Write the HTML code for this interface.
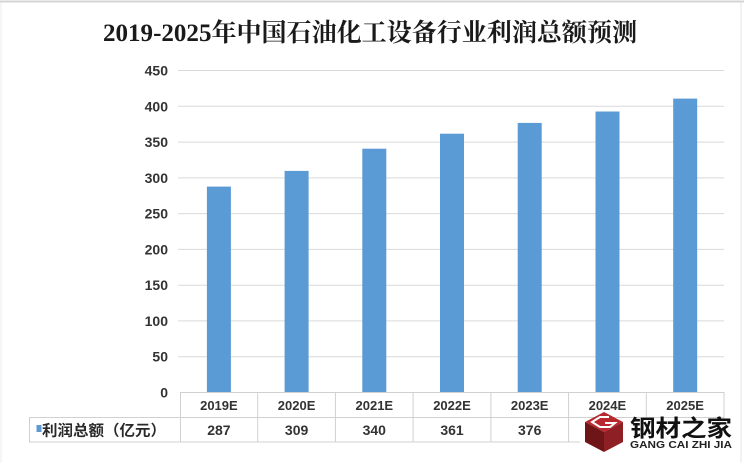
<!DOCTYPE html>
<html>
<head>
<meta charset="utf-8">
<style>
  html,body{margin:0;padding:0;background:#fff;}
  svg{display:block;}
  .t{font-family:"Liberation Sans","Noto Sans CJK SC",sans-serif;}
</style>
</head>
<body>
<svg width="744" height="463" viewBox="0 0 744 463" xmlns="http://www.w3.org/2000/svg">
  <rect x="0" y="0" width="744" height="463" fill="#fff"/>
  <!-- outer frame -->
  <line x1="0" y1="1.5" x2="744" y2="1.5" stroke="#d4d4d4" stroke-width="2"/>
  <line x1="1" y1="2" x2="1" y2="463" stroke="#ececec" stroke-width="1"/>
  <line x1="741" y1="2" x2="741" y2="463" stroke="#e4e4e4" stroke-width="1"/>

  <!-- title -->
  <text x="103" y="41" textLength="534" lengthAdjust="spacingAndGlyphs" font-family="'Liberation Serif','Noto Serif CJK SC',serif" font-weight="bold" font-size="25" fill="#1a1a1a">2019-2025年中国石油化工设备行业利润总额预测</text>

  <!-- gridlines -->
  <g stroke="#d9d9d9" stroke-width="1">
    <line x1="178" y1="70.5" x2="724" y2="70.5"/>
    <line x1="178" y1="106.3" x2="724" y2="106.3"/>
    <line x1="178" y1="142.1" x2="724" y2="142.1"/>
    <line x1="178" y1="177.9" x2="724" y2="177.9"/>
    <line x1="178" y1="213.6" x2="724" y2="213.6"/>
    <line x1="178" y1="249.4" x2="724" y2="249.4"/>
    <line x1="178" y1="285.2" x2="724" y2="285.2"/>
    <line x1="178" y1="320.9" x2="724" y2="320.9"/>
    <line x1="178" y1="356.7" x2="724" y2="356.7"/>
  </g>

  <!-- y labels -->
  <g class="t" font-size="14" font-weight="bold" fill="#333" text-anchor="end">
    <text x="168" y="75.5">450</text>
    <text x="168" y="111.3">400</text>
    <text x="168" y="147.1">350</text>
    <text x="168" y="182.9">300</text>
    <text x="168" y="218.6">250</text>
    <text x="168" y="254.4">200</text>
    <text x="168" y="290.2">150</text>
    <text x="168" y="325.9">100</text>
    <text x="168" y="361.7">50</text>
    <text x="168" y="397.5">0</text>
  </g>

  <!-- bars -->
  <g fill="#5b9bd5">
    <rect x="206.9" y="186.6" width="24" height="205.4"/>
    <rect x="284.6" y="170.9" width="24" height="221.1"/>
    <rect x="362.3" y="148.7" width="24" height="243.3"/>
    <rect x="440.0" y="133.7" width="24" height="258.3"/>
    <rect x="517.7" y="122.9" width="24" height="269.1"/>
    <rect x="595.5" y="111.5" width="24" height="280.5"/>
    <rect x="673.2" y="98.6" width="24" height="293.4"/>
  </g>

  <!-- data table -->
  <g stroke="#d0d0d0" stroke-width="1" fill="none">
    <line x1="180" y1="392.5" x2="724" y2="392.5"/>
    <line x1="29" y1="417.5" x2="724" y2="417.5"/>
    <line x1="29" y1="442" x2="724" y2="442"/>
    <line x1="29.5" y1="417" x2="29.5" y2="442"/>
    <line x1="180.5" y1="392" x2="180.5" y2="442"/>
    <line x1="257.7" y1="392" x2="257.7" y2="442"/>
    <line x1="335.4" y1="392" x2="335.4" y2="442"/>
    <line x1="413.1" y1="392" x2="413.1" y2="442"/>
    <line x1="490.9" y1="392" x2="490.9" y2="442"/>
    <line x1="568.6" y1="392" x2="568.6" y2="442"/>
    <line x1="646.3" y1="392" x2="646.3" y2="442"/>
    <line x1="724" y1="392" x2="724" y2="442"/>
  </g>

  <g class="t" font-size="13" font-weight="bold" fill="#333" text-anchor="middle">
    <text x="218.9" y="410">2019E</text>
    <text x="296.6" y="410">2020E</text>
    <text x="374.3" y="410">2021E</text>
    <text x="452.0" y="410">2022E</text>
    <text x="529.7" y="410">2023E</text>
    <text x="607.4" y="410">2024E</text>
    <text x="685.1" y="410">2025E</text>
  </g>
  <g class="t" font-size="14" font-weight="bold" fill="#333" text-anchor="middle">
    <text x="218.9" y="435">287</text>
    <text x="296.6" y="435">309</text>
    <text x="374.3" y="435">340</text>
    <text x="452.0" y="435">361</text>
    <text x="529.7" y="435">376</text>
    <text x="607.4" y="435">392</text>
    <text x="685.1" y="435">410</text>
  </g>

  <!-- legend key in table -->
  <rect x="36.5" y="425" width="5" height="7" fill="#5b9bd5"/>
  <text x="42" y="435.5" textLength="124" lengthAdjust="spacingAndGlyphs" font-family="'Liberation Sans','Noto Sans CJK SC',sans-serif" font-weight="bold" font-size="15" fill="#2a2a2a">利润总额（亿元）</text>

  <!-- watermark logo -->
  <rect x="580" y="419" width="158" height="36" fill="#fff"/>
  <g>
    <polygon points="585,422 604,412 623,422 604,432" fill="#b8282e"/>
    <polygon points="585,422 604,432 604,452 585,442" fill="#6e1518"/>
    <polygon points="604,432 623,422 623,442 604,452" fill="#8e1f24"/>
    <path d="M609,417 L600,417 L592,422 L600,427 L610,427 L615,423 L605,423" fill="none" stroke="#fff" stroke-width="2"/>
  </g>
  <text x="630" y="436" textLength="102" lengthAdjust="spacingAndGlyphs" font-family="'Liberation Sans','Noto Sans CJK SC',sans-serif" font-weight="bold" font-size="23" fill="#111">钢材之家</text>
  <text x="630" y="448" textLength="102" lengthAdjust="spacingAndGlyphs" font-family="'Liberation Sans',sans-serif" font-weight="bold" font-size="10" fill="#222">GANG CAI ZHI JIA</text>
</svg>
</body>
</html>
